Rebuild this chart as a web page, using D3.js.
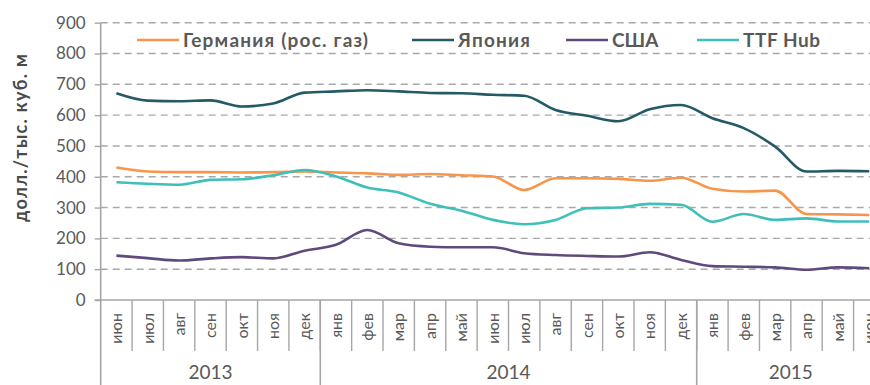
<!DOCTYPE html>
<html>
<head>
<meta charset="utf-8">
<script src="https://cdn.jsdelivr.net/npm/d3@7"></script>
<style>
  html, body { margin: 0; padding: 0; background: #fff; }
  svg { display: block; font-family: Lato, "Open Sans", sans-serif; }
</style>
</head>
<body>
<svg id="chart" width="870" height="385"></svg>
<script>
// Monthly gas prices, June 2013 – June 2015
const months = ["июн","июл","авг","сен","окт","ноя","дек",
                "янв","фев","мар","апр","май","июн","июл","авг","сен","окт","ноя","дек",
                "янв","фев","мар","апр","май","июн"];
const years = ["2013", "2014", "2015"];
const yearMonthCounts = [7, 12, 6];

const seriesNames = ["Германия (рос. газ)", "Япония", "США", "TTF Hub"];
const seriesColors = ["#f7964a", "#235a66", "#604a7d", "#3fbfba"];

const germany = [430,417,415,415,414,415,417,414,411,406,409,405,401,357,395,395,393,387,397,361,352,355,279,278,276];
const japan   = [671,647,645,648,628,638,673,677,681,677,672,671,666,663,617,598,580,619,633,590,558,498,417,419,418];
const usa     = [144,136,128,135,139,135,160,179,227,184,173,171,171,152,146,143,141,155,130,110,108,106,98,106,103];
const ttf     = [382,377,374,390,392,405,422,401,365,349,312,290,260,246,260,298,300,312,309,254,279,260,265,255,255];

const yTicks = [0,100,200,300,400,500,600,700,800,900];
const yTitle = "долл./тыс. куб. м";

const seriesValues = [germany, japan, usa, ttf];

const svg = d3.select("#chart");
const axisColor = "#a6a6a6";
const textColor = "#595959";

const plotLeft = 100.7, monthW = 31.37;
const plotTop = 22.7, plotBottom = 300;

const x = d3.scaleBand()
  .domain(d3.range(months.length))
  .range([plotLeft, plotLeft + monthW * months.length])
  .padding(0);
const y = d3.scaleLinear().domain([0, 900]).range([plotBottom, plotTop]);

// Horizontal dashed gridlines
svg.append("g").selectAll("line.grid")
  .data(yTicks.filter(d => d > 0))
  .join("line")
  .attr("x1", plotLeft).attr("x2", 870)
  .attr("y1", d => y(d)).attr("y2", d => y(d))
  .attr("stroke", "#a8a8a8")
  .attr("stroke-width", 1.4)
  .attr("stroke-dasharray", "7,5");

// Y axis
const yAxis = svg.append("g")
  .attr("transform", `translate(${plotLeft},0)`)
  .call(d3.axisLeft(y).tickValues(yTicks).tickSize(6).tickPadding(9));
yAxis.select(".domain").remove();
yAxis.selectAll(".tick line").attr("stroke", axisColor).attr("stroke-width", 1.4);
yAxis.selectAll(".tick text")
  .attr("fill", textColor)
  .style("font-size", "17px")
  .style("font-family", "Lato, sans-serif");

// Axis lines
svg.append("line")
  .attr("x1", plotLeft).attr("x2", plotLeft)
  .attr("y1", plotTop).attr("y2", 385)
  .attr("stroke", axisColor).attr("stroke-width", 1.6);
svg.append("line")
  .attr("x1", plotLeft - 6).attr("x2", 870)
  .attr("y1", plotBottom).attr("y2", plotBottom)
  .attr("stroke", axisColor).attr("stroke-width", 1.6);

// Month separators and labels
const monthG = svg.append("g");
monthG.selectAll("line")
  .data(d3.range(1, months.length + 1))
  .join("line")
  .attr("x1", i => x(i - 1) + x.bandwidth())
  .attr("x2", i => x(i - 1) + x.bandwidth())
  .attr("y1", plotBottom)
  .attr("y2", 351)
  .attr("stroke", axisColor).attr("stroke-width", 1.4);

monthG.selectAll("text")
  .data(months)
  .join("text")
  .attr("transform", (d, i) => `translate(${x(i) + x.bandwidth() / 2},313) rotate(-90)`)
  .attr("text-anchor", "end")
  .attr("dy", "0.36em")
  .attr("fill", textColor)
  .style("font-size", "16px")
  .text(d => d);

// Year separators and labels
let acc = 0;
const yearSpans = years.map((label, k) => {
  const s = acc; acc += yearMonthCounts[k];
  return { label, start: s, end: acc };
});
const yearG = svg.append("g");
yearG.selectAll("line")
  .data(yearSpans.slice(1))
  .join("line")
  .attr("x1", d => x(d.start)).attr("x2", d => x(d.start))
  .attr("y1", plotBottom).attr("y2", 385)
  .attr("stroke", axisColor).attr("stroke-width", 1.6);
yearG.selectAll("text")
  .data(yearSpans)
  .join("text")
  .attr("x", d => (x(d.start) + x(d.end - 1) + x.bandwidth()) / 2)
  .attr("y", 379)
  .attr("text-anchor", "middle")
  .attr("fill", textColor)
  .style("font-size", "19px")
  .text(d => d.label);

// Y axis title
svg.append("text")
  .attr("transform", "translate(21,138) rotate(-90)")
  .attr("text-anchor", "middle")
  .attr("dy", "0.35em")
  .attr("fill", "#4a4a4a")
  .attr("textLength", 168)
  .attr("lengthAdjust", "spacing")
  .style("font-size", "18px")
  .style("font-weight", "bold")
  .text(yTitle);

// Series lines
const line = d3.line()
  .x((d, i) => x(i) + x.bandwidth() / 2)
  .y(d => y(d))
  .curve(d3.curveMonotoneX);

svg.append("g").selectAll("path")
  .data(seriesValues)
  .join("path")
  .attr("d", d => line(d))
  .attr("fill", "none")
  .attr("stroke", (d, i) => seriesColors[i])
  .attr("stroke-width", 2.6)
  .attr("stroke-linejoin", "round");

// Legend
const legendX = [137, 412, 566, 697];
const legendTextW = [185, 72, null, 77];
const legend = svg.append("g").selectAll("g")
  .data(seriesNames)
  .join("g")
  .attr("transform", (d, i) => `translate(${legendX[i]},40)`);
legend.append("line")
  .attr("x1", 0).attr("x2", 42)
  .attr("stroke", (d, i) => seriesColors[i])
  .attr("stroke-width", 2.6);
legend.append("text")
  .attr("x", 46)
  .attr("dy", "0.36em")
  .attr("fill", textColor)
  .attr("textLength", (d, i) => legendTextW[i])
  .attr("lengthAdjust", "spacing")
  .style("font-size", "19px")
  .style("font-weight", "bold")
  .text(d => d);
</script>
</body>
</html>
